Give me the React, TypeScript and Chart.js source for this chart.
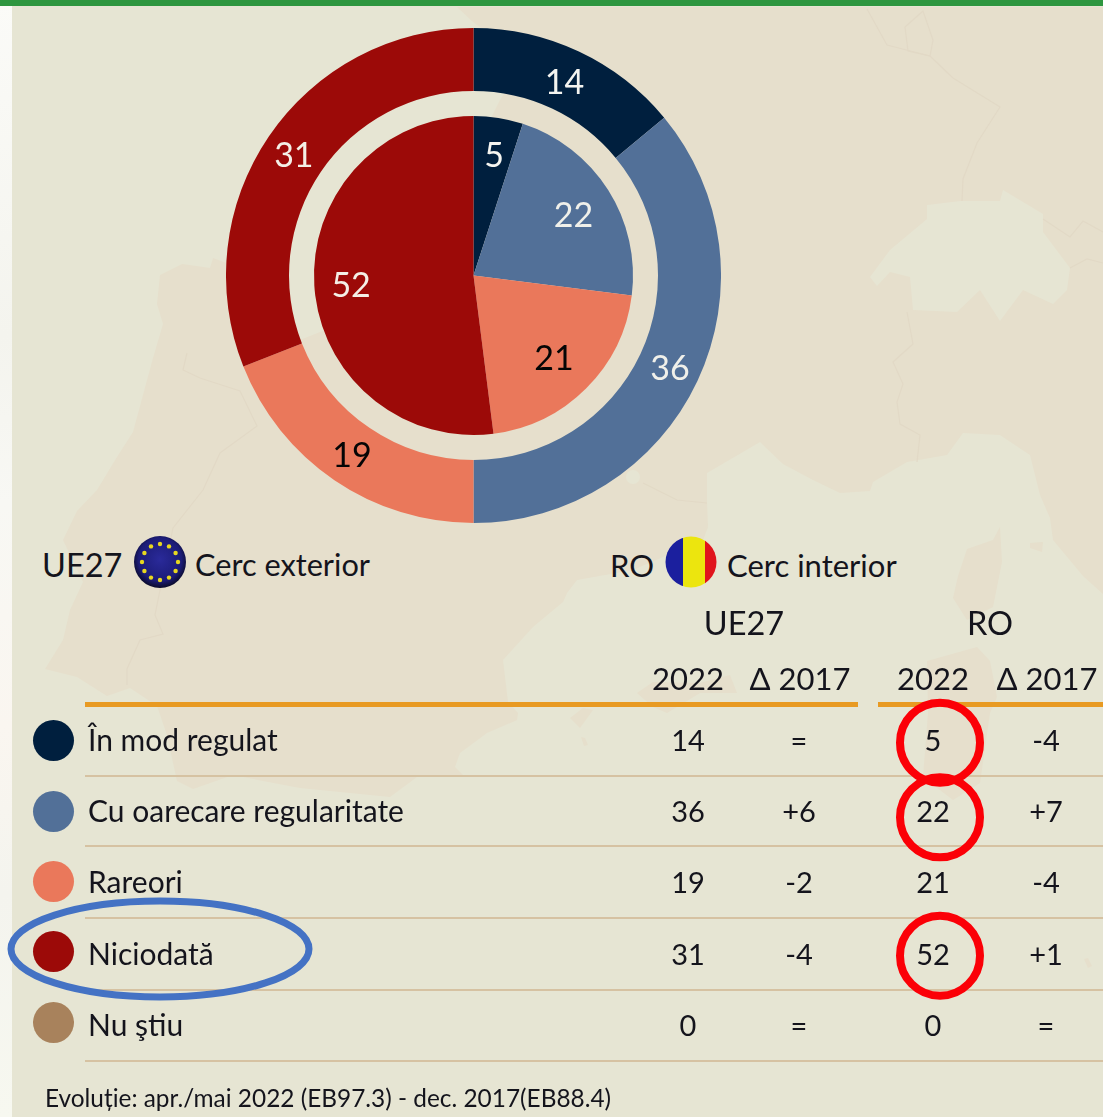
import React, { useEffect, useRef } from "react";
import { Chart, registerables } from "chart.js";

Chart.register(...registerables);

const categories = ["În mod regulat", "Cu oarecare regularitate", "Rareori", "Niciodată", "Nu ştiu"];
const ue27Values = [14, 36, 19, 31, 0];
const roValues = [5, 22, 21, 52, 0];
const ue27Delta = ["=", "+6", "-2", "-4", "="];
const roDelta = ["-4", "+7", "-4", "+1", "="];
const sliceColors = ["#001f3e", "#527098", "#ea785b", "#9c0a08", "#a8825c"];
const labelColors = ["#f4f4f0", "#f0f0ea", "#050505", "#f4efe6", "#050505"];

const FONT = "Lato, 'Noto Sans', sans-serif";
const BG = "#e6e5d3";
const LAND = "#e6dfcc";
const BORDER = "#e2d9c6";
const rowY = [739, 810, 881, 953, 1024];
const markerY = [740, 811, 881, 951, 1022];
const sepY = [775, 845, 917, 989, 1060];

// small optical nudges of the printed labels, [dx, dy] per dataset and slice
const outerNudge = [[-1, 2], [1, 1], [0, 1], [-1, 1]];
const innerNudge = [[2, -2], [-1, 4], [-4, -2], [-3, 2]];

const labelsPlugin = {
  id: "ringLabels",
  afterDatasetsDraw(chart: any) {
    const { ctx } = chart;
    [0, 2].forEach((di) => {
      const meta = chart.getDatasetMeta(di);
      const data = chart.data.datasets[di].data as number[];
      const nudge = di === 2 ? innerNudge : outerNudge;
      meta.data.forEach((arc: any, i: number) => {
        if (!data[i]) return;
        const p = arc.getProps(["startAngle", "endAngle", "innerRadius", "outerRadius", "x", "y"], true);
        const mid = (p.startAngle + p.endAngle) / 2;
        const r = di === 2 ? p.outerRadius * 0.75 : (p.innerRadius + p.outerRadius) / 2;
        ctx.save();
        ctx.font = `34px ${FONT}`;
        ctx.fillStyle = labelColors[i];
        ctx.textAlign = "center";
        ctx.textBaseline = "middle";
        ctx.fillText(String(data[i]), p.x + Math.cos(mid) * r + nudge[i][0], p.y + Math.sin(mid) * r + 1 + nudge[i][1]);
        ctx.restore();
      });
    });
  },
};

function T({ x, y, size, children, align = "center", color = "#14141c" }: any) {
  return (
    <div
      style={{
        position: "absolute",
        left: x,
        top: y,
        transform: align === "center" ? "translate(-50%,-50%)" : "translate(0,-50%)",
        fontFamily: FONT,
        fontSize: size,
        lineHeight: 1,
        whiteSpace: "nowrap",
        color,
      }}
    >
      {children}
    </div>
  );
}

function Line({ x, y, w, h, color }: any) {
  return <div style={{ position: "absolute", left: x, top: y, width: w, height: h, background: color }} />;
}

const landPath =
  "M457 7 L1103 7 L1103 594 L1083 576 L1053 540 L1050 518 L1040 495 L1030 455 L1000 435 L963 433 L947 455 L907 462 L873 482 L870 491 L840 493 L813 480 L783 464 L760 442 L707 473 L707 503 L708 527 L703 540 L663 557 L633 570 L577 580 L567 593 L563 602 L533 627 L503 660 L508 702 L518 713 L517 720 L487 733 L460 753 L455 767 L463 775 L417 777 L390 797 L300 788 L263 781 L233 775 L193 789 L177 781 L167 735 L157 706 L130 688 L107 696 L77 677 L45 669 L63 640 L70 610 L83 582 L63 540 L77 511 L97 490 L117 457 L133 432 L143 395 L153 358 L163 324 L157 304 L160 275 L182 264 L210 268 L213 258 L245 270 L300 340 L400 300 L500 100 L525 60 L473 22 Z";
const swiss =
  "M927 205 L960 201 L1000 201 L1003 190 L1043 214 L1043 232 L1070 268 L1067 290 L1053 304 L1023 290 L1000 321 L980 290 L957 312 L913 310 L910 277 L890 272 L877 286 L870 277 L890 250 L927 219 Z";
const islands = [
  "M1000 527 L993 540 L967 549 L958 576 L953 598 L967 620 L993 607 L1002 562 Z",
  "M927 661 L977 647 L990 661 L997 697 L990 713 L980 783 L953 800 L923 777 L928 713 Z",
  "M637 693 L653 682 L700 683 L730 675 L737 693 L700 693 L667 713 L653 707 Z",
  "M583 708 L593 710 L580 728 L570 718 Z",
  "M1030 543 L1043 542 L1042 552 L1030 548 Z",
  "M581 737 L585 738 L588 745 L584 746 Z",
  "M1084 959 L1088 958 L1092 966 L1088 968 Z",
];
const borders = [
  "M187 353 L183 370 L200 378 L240 391 L257 426 L220 453 L203 490 L173 528 L160 590 L155 615 L163 634 L140 640 L127 669 L127 685",
  "M867 9 L887 45 L930 56 L953 78 L1000 107 L977 143 L963 179 L962 201",
  "M923 11 L905 27 L908 51 L930 56 L933 40 Z",
  "M907 312 L913 344 L893 362 L903 384 L897 402 L900 424 L920 435 L917 462",
  "M1043 219 L1070 237 L1083 221 L1103 232",
  "M1070 268 L1087 259 L1103 263",
  "M643 483 L677 500 L707 503",
];

export default function App() {
  const ref = useRef<HTMLCanvasElement>(null);
  useEffect(() => {
    const chart = new Chart(ref.current as HTMLCanvasElement, {
      type: "doughnut",
      data: {
        labels: categories,
        datasets: [
          { label: "UE27", data: ue27Values, backgroundColor: sliceColors, borderWidth: 0, weight: 63 },
          { label: "gap", data: [1], backgroundColor: ["rgba(0,0,0,0)"], borderWidth: 0, weight: 25 },
          { label: "RO", data: roValues, backgroundColor: sliceColors, borderWidth: 0, weight: 159.5 },
        ],
      } as any,
      options: {
        responsive: false,
        animation: false,
        cutout: 0,
        plugins: { legend: { display: false }, tooltip: { enabled: false } },
        layout: { padding: 0 },
      } as any,
      plugins: [labelsPlugin],
    });
    return () => chart.destroy();
  }, []);

  const stars = Array.from({ length: 12 }, (_, i) => i);

  return (
    <div style={{ position: "fixed", left: 0, top: 0, width: 1103, height: 1117, overflow: "hidden", background: BG }}>
      <svg width={1103} height={1117} style={{ position: "absolute", left: 0, top: 0 }}>
        <path fill={LAND} d={landPath} />
        <path fill={BG} d={swiss} />
        <circle cx={633} cy={477} r={7} fill={BG} />
        {islands.map((d) => (
          <path key={d} fill={LAND} d={d} />
        ))}
        {borders.map((d) => (
          <path key={d} fill="none" stroke={BORDER} strokeWidth={1.2} d={d} />
        ))}
      </svg>
      <div
        style={{
          position: "absolute",
          left: 0,
          top: 0,
          width: 12,
          height: 1117,
          background:
            "linear-gradient(180deg,#fbfbf8 0%,#f4f4ee 30%,#f8f8f4 45%,#faf6f0 65%,#f4f4ee 80%,#f7f8f0 100%)",
        }}
      />
      <Line x={0} y={0} w={1103} h={6} color="#2e963f" />

      <canvas ref={ref} width={495} height={495} style={{ position: "absolute", left: 226, top: 28, display: "block" }} />

      <T x={42} y={565} size={32.5} align="left">UE27</T>
      <T x={195} y={565} size={30.7} align="left">Cerc exterior</T>
      <T x={610} y={565} size={31} align="left">RO</T>
      <T x={727} y={565} size={31} align="left">Cerc interior</T>

      <svg width={1103} height={1117} style={{ position: "absolute", left: 0, top: 0 }}>
        <defs>
          <radialGradient id="eu" cx="50%" cy="45%" r="55%">
            <stop offset="0%" stopColor="#2a2a9a" />
            <stop offset="75%" stopColor="#1c1c78" />
            <stop offset="100%" stopColor="#0a0a28" />
          </radialGradient>
          <clipPath id="roClip"><circle cx={691} cy={562} r={25.5} /></clipPath>
        </defs>
        <circle cx={160} cy={562} r={26} fill="url(#eu)" />
        {stars.map((i) => (
          <circle
            key={i}
            cx={160 + 18 * Math.cos((i * Math.PI) / 6)}
            cy={562 + 18 * Math.sin((i * Math.PI) / 6)}
            r={2.2}
            fill="#e8d820"
          />
        ))}
        <g clipPath="url(#roClip)">
          <rect x={665} y={536} width={18} height={52} fill="#1b1f9e" />
          <rect x={683} y={536} width={22} height={52} fill="#ece50e" />
          <rect x={705} y={536} width={13} height={52} fill="#e0141c" />
        </g>
      </svg>

      <T x={744} y={623} size={32.5}>UE27</T>
      <T x={990} y={623} size={32.5}>RO</T>
      <T x={688} y={678} size={31}>2022</T>
      <T x={800} y={678} size={31}>Δ 2017</T>
      <T x={933} y={678} size={31}>2022</T>
      <T x={1047} y={678} size={31}>Δ 2017</T>

      <Line x={85} y={702} w={773} h={5} color="#e89a22" />
      <Line x={878} y={702} w={225} h={5} color="#e89a22" />
      {sepY.map((y) => (
        <Line key={y} x={85} y={y} w={1018} h={2} color="#d6c2a2" />
      ))}

      {categories.map((c, i) => (
        <React.Fragment key={c}>
          <div
            style={{
              position: "absolute",
              left: 32.5,
              top: markerY[i] - 20.5,
              width: 41,
              height: 41,
              borderRadius: "50%",
              background: sliceColors[i],
            }}
          />
          <T x={88} y={rowY[i]} size={30} align="left">{c}</T>
          <T x={688} y={rowY[i]} size={29}>{ue27Values[i]}</T>
          <T x={799} y={rowY[i]} size={29}>{ue27Delta[i]}</T>
          <T x={933} y={rowY[i]} size={29}>{roValues[i]}</T>
          <T x={1046} y={rowY[i]} size={29}>{roDelta[i]}</T>
        </React.Fragment>
      ))}

      <T x={45} y={1098} size={24.4} align="left">Evoluție: apr./mai 2022 (EB97.3) - dec. 2017(EB88.4)</T>

      <svg width={1103} height={1117} style={{ position: "absolute", left: 0, top: 0 }}>
        <circle cx={940} cy={742.7} r={40} fill="none" stroke="#fb0007" strokeWidth={8} />
        <circle cx={940} cy={817.3} r={40} fill="none" stroke="#fb0007" strokeWidth={8} />
        <circle cx={940} cy={955.7} r={40} fill="none" stroke="#fb0007" strokeWidth={8} />
        <ellipse cx={160} cy={949} rx={149} ry={48} fill="none" stroke="#4472c4" strokeWidth={7} />
      </svg>
    </div>
  );
}
